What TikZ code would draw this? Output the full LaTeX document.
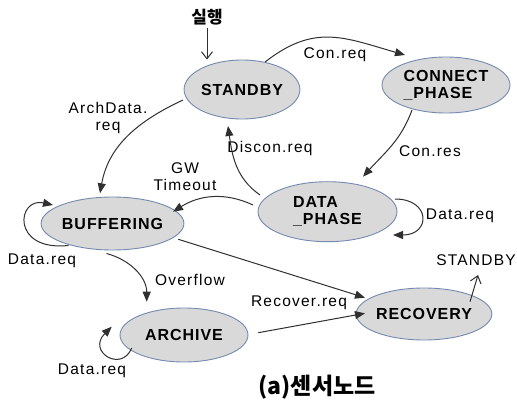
\documentclass[tikz,border=0pt]{standalone}
\usepackage{fontspec}
\setmainfont{Liberation Sans}
\newfontfamily\nodefont[LetterSpace=6]{Liberation Sans}
\newfontfamily\labfont[LetterSpace=8]{Liberation Sans}
\newfontfamily\krfont{Noto Sans CJK KR}
\usetikzlibrary{shapes.geometric,arrows.meta,calc}
\definecolor{statefill}{HTML}{D9D9D9}
\definecolor{stateline}{HTML}{7389B0}
\definecolor{wire}{HTML}{303030}
\tikzset{
  state/.style={ellipse,draw=stateline,fill=statefill,line width=0.9pt,inner sep=0pt,
    font=\nodefont\bfseries\fontsize{16}{17}\selectfont,align=left},
  lab/.style={font=\labfont\fontsize{15.5}{17}\selectfont,inner sep=0pt,align=center},
  flow/.style={draw=wire,line width=1pt,-{Triangle[length=10pt,width=8pt]}},
  entry/.style={draw=wire,line width=1pt,-{Straight Barb[length=7pt,width=11pt]}}
}
\begin{document}
\begin{tikzpicture}[x=1pt,y=1pt]
\useasboundingbox (0,0) rectangle (517,-401);

% states
\node[state,minimum width=114pt,minimum height=59pt] (stb) at (242,-89.5) {STANDBY};
\node[state,minimum width=128pt,minimum height=56pt] (con) at (446,-85) {CONNECT\\\_PHASE};
\node[state,minimum width=139pt,minimum height=60pt] (dat) at (327.5,-211.7) {DATA\\\_PHASE};
\node[state,minimum width=129pt,minimum height=53pt] (buf) at (112.5,-223.5) {BUFFERING};
\node[state,minimum width=128pt,minimum height=54pt] (arc) at (184,-335) {ARCHIVE};
\node[state,minimum width=108pt,minimum height=52pt] (rec) at (424,-314) {RECOVERY};

% free texts
\node[font=\krfont\bfseries\fontsize{17}{18}\selectfont,inner sep=0pt] (run) at (207,-17) {실행};
\node[lab] (tostb) at (476,-260) {STANDBY};
\node[font=\krfont\bfseries\fontsize{23}{24}\selectfont,inner sep=0pt] (cap) at (317,-387) {(a)센서노드};

% transition labels
\node[lab] at (335,-55) {Con.req};
\node[lab] at (430,-151) {Con.res};
\node[lab] at (108,-118) {ArchData.\\req};
\node[lab] at (270,-148) {Discon.req};
\node[lab] at (185,-177) {GW\\Timeout};
\node[lab] at (460,-216) {Data.req};
\node[lab] at (42,-261) {Data.req};
\node[lab] at (190,-280) {Overflow};
\node[lab] at (299,-303) {Recover.req};
\node[lab] at (92,-371) {Data.req};

% start transition
\draw[entry] ($(run.south)+(0,-3)$) -- (run.south |- stb.north);

% transitions
\draw[flow] (stb.50) to[out=38,in=164,looseness=1.15] ($(con)+(-41,30)$);
\draw[flow] ($(con)+(-34,-25)$) to[out=-110,in=48] ($(dat)+(35.5,35)$);
\draw[flow] ($(dat)+(-67.5,16.7)$) to[out=145,in=-82] ($(stb)+(-14,-36.5)$);
\draw[flow] ($(dat)+(-74.5,6.7)$) to[out=155,in=32] ($(buf)+(60.5,11.8)$);
\draw[flow] ($(stb)+(-59,-10.5)$) to[out=205,in=80] ($(buf)+(-12.5,30.2)$);
\draw[flow] ($(buf)+(-44,-22)$) .. controls +(-58,-6) and +(-36,8) .. ($(buf)+(-59.5,18.5)$);
\draw[flow] ($(buf)+(-6,-30)$) to[out=-15,in=90] ($(arc)+(-37.3,33.3)$);
\draw[flow] ($(buf)+(65.8,-15.8)$) -- ($(rec)+(-59,16.3)$);
\draw[flow] ($(arc)+(74.3,2.3)$) -- ($(rec)+(-59,0.7)$);
\draw[flow] ($(arc)+(-52.3,-13)$) .. controls +(-10,-25) and +(-25,-25) .. ($(arc)+(-72.3,8.3)$);
\draw[flow] ($(dat)+(67.5,12.7)$) .. controls +(36,0) and +(38,0) .. ($(dat)+(65.5,-23.3)$);
\draw[entry] ($(rec)+(46,12.3)$) -- ($(rec)+(54,39)$);
\end{tikzpicture}
\end{document}
